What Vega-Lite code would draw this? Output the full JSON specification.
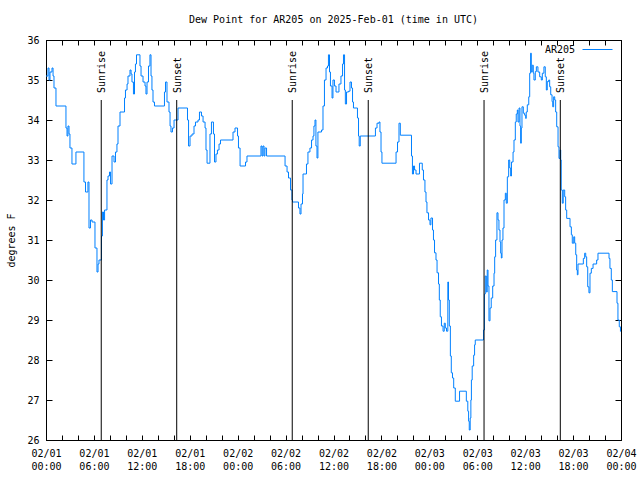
{
"$schema": "https://vega.github.io/schema/vega-lite/v6.json",
"width": 575, "height": 400,
"autosize": {"type": "none"},
"padding": {"left": 46, "top": 40, "right": 19, "bottom": 40},
"background": "white",
"title": {"text": "Dew Point for AR205 on 2025-Feb-01 (time in UTC)", "font": "DejaVu Sans Mono", "fontSize": 10, "fontWeight": "normal", "anchor": "middle", "offset": 9, "color": "black"},
"datasets": {
"dew": [
{"t":"2025-02-01T00:00Z","dp":35.1},{"t":"2025-02-01T00:15Z","dp":35.3},{"t":"2025-02-01T00:23Z","dp":35.0},{"t":"2025-02-01T00:30Z","dp":35.2},{"t":"2025-02-01T00:45Z","dp":35.3},{"t":"2025-02-01T00:53Z","dp":35.1},{"t":"2025-02-01T01:00Z","dp":34.8},{"t":"2025-02-01T01:15Z","dp":34.35},{"t":"2025-02-01T02:30Z","dp":33.8},{"t":"2025-02-01T02:38Z","dp":33.6},{"t":"2025-02-01T02:45Z","dp":33.85},{"t":"2025-02-01T02:53Z","dp":33.65},{"t":"2025-02-01T03:00Z","dp":33.3},{"t":"2025-02-01T03:15Z","dp":32.9},{"t":"2025-02-01T03:45Z","dp":33.2},{"t":"2025-02-01T04:45Z","dp":32.45},{"t":"2025-02-01T04:57Z","dp":32.2},{"t":"2025-02-01T05:15Z","dp":32.45},{"t":"2025-02-01T05:23Z","dp":31.3},{"t":"2025-02-01T05:34Z","dp":31.5},{"t":"2025-02-01T05:46Z","dp":31.45},{"t":"2025-02-01T06:08Z","dp":30.8},{"t":"2025-02-01T06:23Z","dp":30.2},{"t":"2025-02-01T06:31Z","dp":30.4},{"t":"2025-02-01T06:38Z","dp":30.5},{"t":"2025-02-01T06:57Z","dp":31.1},{"t":"2025-02-01T07:04Z","dp":31.7},{"t":"2025-02-01T07:12Z","dp":31.5},{"t":"2025-02-01T07:20Z","dp":31.75},{"t":"2025-02-01T07:38Z","dp":32.5},{"t":"2025-02-01T07:46Z","dp":32.6},{"t":"2025-02-01T07:57Z","dp":32.7},{"t":"2025-02-01T08:05Z","dp":32.4},{"t":"2025-02-01T08:16Z","dp":33.1},{"t":"2025-02-01T08:31Z","dp":32.95},{"t":"2025-02-01T08:42Z","dp":33.2},{"t":"2025-02-01T08:53Z","dp":33.4},{"t":"2025-02-01T09:01Z","dp":33.85},{"t":"2025-02-01T09:16Z","dp":34.2},{"t":"2025-02-01T09:50Z","dp":34.55},{"t":"2025-02-01T09:57Z","dp":34.75},{"t":"2025-02-01T10:09Z","dp":34.9},{"t":"2025-02-01T10:16Z","dp":35.1},{"t":"2025-02-01T10:31Z","dp":35.25},{"t":"2025-02-01T10:39Z","dp":35.15},{"t":"2025-02-01T10:46Z","dp":34.95},{"t":"2025-02-01T10:57Z","dp":34.65},{"t":"2025-02-01T11:05Z","dp":35.2},{"t":"2025-02-01T11:12Z","dp":35.4},{"t":"2025-02-01T11:20Z","dp":35.63},{"t":"2025-02-01T11:46Z","dp":35.35},{"t":"2025-02-01T11:54Z","dp":35.1},{"t":"2025-02-01T12:09Z","dp":34.95},{"t":"2025-02-01T12:24Z","dp":34.85},{"t":"2025-02-01T12:31Z","dp":34.65},{"t":"2025-02-01T12:39Z","dp":34.95},{"t":"2025-02-01T12:50Z","dp":35.35},{"t":"2025-02-01T13:01Z","dp":35.63},{"t":"2025-02-01T13:09Z","dp":35.1},{"t":"2025-02-01T13:16Z","dp":34.75},{"t":"2025-02-01T13:24Z","dp":34.45},{"t":"2025-02-01T13:35Z","dp":34.35},{"t":"2025-02-01T14:50Z","dp":34.7},{"t":"2025-02-01T14:58Z","dp":34.95},{"t":"2025-02-01T15:09Z","dp":34.45},{"t":"2025-02-01T15:24Z","dp":34.2},{"t":"2025-02-01T15:32Z","dp":33.85},{"t":"2025-02-01T15:39Z","dp":33.7},{"t":"2025-02-01T15:50Z","dp":33.8},{"t":"2025-02-01T16:02Z","dp":34.0},{"t":"2025-02-01T16:32Z","dp":34.3},{"t":"2025-02-01T17:43Z","dp":34.0},{"t":"2025-02-01T17:51Z","dp":33.35},{"t":"2025-02-01T18:02Z","dp":33.6},{"t":"2025-02-01T18:17Z","dp":33.65},{"t":"2025-02-01T18:32Z","dp":33.85},{"t":"2025-02-01T18:43Z","dp":33.95},{"t":"2025-02-01T19:02Z","dp":34.0},{"t":"2025-02-01T19:13Z","dp":34.2},{"t":"2025-02-01T19:28Z","dp":34.1},{"t":"2025-02-01T19:40Z","dp":33.95},{"t":"2025-02-01T19:55Z","dp":33.8},{"t":"2025-02-01T20:02Z","dp":33.25},{"t":"2025-02-01T20:10Z","dp":32.92},{"t":"2025-02-01T20:32Z","dp":33.65},{"t":"2025-02-01T20:43Z","dp":33.95},{"t":"2025-02-01T20:58Z","dp":33.65},{"t":"2025-02-01T21:06Z","dp":32.95},{"t":"2025-02-01T21:17Z","dp":33.15},{"t":"2025-02-01T21:28Z","dp":33.25},{"t":"2025-02-01T21:40Z","dp":33.4},{"t":"2025-02-01T21:51Z","dp":33.5},{"t":"2025-02-01T23:25Z","dp":33.7},{"t":"2025-02-01T23:40Z","dp":33.8},{"t":"2025-02-01T23:59Z","dp":33.6},
{"t":"2025-02-02T00:06Z","dp":33.3},{"t":"2025-02-02T00:18Z","dp":32.85},{"t":"2025-02-02T00:59Z","dp":32.95},{"t":"2025-02-02T01:10Z","dp":33.1},{"t":"2025-02-02T02:55Z","dp":33.35},{"t":"2025-02-02T03:03Z","dp":33.1},{"t":"2025-02-02T03:10Z","dp":33.35},{"t":"2025-02-02T03:18Z","dp":33.1},{"t":"2025-02-02T03:25Z","dp":33.3},{"t":"2025-02-02T03:37Z","dp":33.1},{"t":"2025-02-02T05:56Z","dp":32.85},{"t":"2025-02-02T06:11Z","dp":32.7},{"t":"2025-02-02T06:22Z","dp":32.55},{"t":"2025-02-02T06:37Z","dp":32.25},{"t":"2025-02-02T06:48Z","dp":32.0},{"t":"2025-02-02T06:52Z","dp":31.95},{"t":"2025-02-02T07:37Z","dp":31.8},{"t":"2025-02-02T07:48Z","dp":31.65},{"t":"2025-02-02T07:56Z","dp":31.9},{"t":"2025-02-02T08:07Z","dp":32.15},{"t":"2025-02-02T08:11Z","dp":32.65},{"t":"2025-02-02T08:37Z","dp":32.9},{"t":"2025-02-02T08:48Z","dp":33.2},{"t":"2025-02-02T09:03Z","dp":33.3},{"t":"2025-02-02T09:15Z","dp":33.5},{"t":"2025-02-02T09:26Z","dp":33.6},{"t":"2025-02-02T09:33Z","dp":33.85},{"t":"2025-02-02T09:41Z","dp":34.0},{"t":"2025-02-02T09:48Z","dp":33.35},{"t":"2025-02-02T09:56Z","dp":33.05},{"t":"2025-02-02T10:03Z","dp":33.7},{"t":"2025-02-02T10:30Z","dp":33.75},{"t":"2025-02-02T10:41Z","dp":34.35},{"t":"2025-02-02T10:52Z","dp":35.0},{"t":"2025-02-02T11:04Z","dp":35.3},{"t":"2025-02-02T11:15Z","dp":35.35},{"t":"2025-02-02T11:22Z","dp":35.63},{"t":"2025-02-02T11:30Z","dp":35.2},{"t":"2025-02-02T11:37Z","dp":34.85},{"t":"2025-02-02T11:49Z","dp":34.55},{"t":"2025-02-02T11:56Z","dp":35.0},{"t":"2025-02-02T12:07Z","dp":34.85},{"t":"2025-02-02T12:19Z","dp":34.7},{"t":"2025-02-02T12:41Z","dp":34.9},{"t":"2025-02-02T12:56Z","dp":35.1},{"t":"2025-02-02T13:08Z","dp":35.4},{"t":"2025-02-02T13:15Z","dp":35.63},{"t":"2025-02-02T13:23Z","dp":34.75},{"t":"2025-02-02T13:29Z","dp":34.4},{"t":"2025-02-02T13:38Z","dp":34.7},{"t":"2025-02-02T13:53Z","dp":34.72},{"t":"2025-02-02T14:04Z","dp":34.95},{"t":"2025-02-02T14:15Z","dp":34.8},{"t":"2025-02-02T14:23Z","dp":34.45},{"t":"2025-02-02T14:30Z","dp":34.3},{"t":"2025-02-02T15:00Z","dp":34.05},{"t":"2025-02-02T15:08Z","dp":33.6},{"t":"2025-02-02T15:13Z","dp":33.35},{"t":"2025-02-02T15:21Z","dp":33.6},{"t":"2025-02-02T17:15Z","dp":33.8},{"t":"2025-02-02T17:27Z","dp":33.92},{"t":"2025-02-02T17:42Z","dp":33.95},{"t":"2025-02-02T17:49Z","dp":33.7},{"t":"2025-02-02T17:57Z","dp":33.2},{"t":"2025-02-02T18:04Z","dp":32.92},{"t":"2025-02-02T19:50Z","dp":33.2},{"t":"2025-02-02T20:01Z","dp":33.45},{"t":"2025-02-02T20:12Z","dp":33.92},{"t":"2025-02-02T20:22Z","dp":33.62},{"t":"2025-02-02T21:46Z","dp":33.1},{"t":"2025-02-02T21:53Z","dp":32.65},{"t":"2025-02-02T22:01Z","dp":32.85},{"t":"2025-02-02T22:09Z","dp":32.75},{"t":"2025-02-02T22:20Z","dp":32.65},{"t":"2025-02-02T22:46Z","dp":32.92},{"t":"2025-02-02T23:07Z","dp":32.75},{"t":"2025-02-02T23:16Z","dp":32.5},{"t":"2025-02-02T23:27Z","dp":32.2},{"t":"2025-02-02T23:35Z","dp":31.95},{"t":"2025-02-02T23:42Z","dp":31.68},{"t":"2025-02-02T23:54Z","dp":31.5},
{"t":"2025-02-03T00:05Z","dp":31.38},{"t":"2025-02-03T00:12Z","dp":31.55},{"t":"2025-02-03T00:24Z","dp":31.25},{"t":"2025-02-03T00:31Z","dp":31.0},{"t":"2025-02-03T00:39Z","dp":30.68},{"t":"2025-02-03T00:50Z","dp":30.5},{"t":"2025-02-03T00:58Z","dp":30.18},{"t":"2025-02-03T01:09Z","dp":29.9},{"t":"2025-02-03T01:15Z","dp":29.5},{"t":"2025-02-03T01:22Z","dp":29.08},{"t":"2025-02-03T01:31Z","dp":28.85},{"t":"2025-02-03T01:43Z","dp":28.72},{"t":"2025-02-03T01:52Z","dp":28.92},{"t":"2025-02-03T02:00Z","dp":28.8},{"t":"2025-02-03T02:09Z","dp":28.72},{"t":"2025-02-03T02:19Z","dp":29.95},{"t":"2025-02-03T02:24Z","dp":29.5},{"t":"2025-02-03T02:30Z","dp":28.85},{"t":"2025-02-03T02:38Z","dp":28.1},{"t":"2025-02-03T02:45Z","dp":27.68},{"t":"2025-02-03T02:54Z","dp":27.55},{"t":"2025-02-03T03:03Z","dp":27.3},{"t":"2025-02-03T03:15Z","dp":26.97},{"t":"2025-02-03T03:47Z","dp":27.22},{"t":"2025-02-03T04:38Z","dp":26.97},{"t":"2025-02-03T04:49Z","dp":26.72},{"t":"2025-02-03T04:55Z","dp":26.47},{"t":"2025-02-03T05:00Z","dp":26.25},{"t":"2025-02-03T05:07Z","dp":26.55},{"t":"2025-02-03T05:12Z","dp":27.0},{"t":"2025-02-03T05:16Z","dp":27.5},{"t":"2025-02-03T05:22Z","dp":27.85},{"t":"2025-02-03T05:33Z","dp":28.12},{"t":"2025-02-03T05:40Z","dp":28.38},{"t":"2025-02-03T05:45Z","dp":28.5},{"t":"2025-02-03T06:47Z","dp":28.75},{"t":"2025-02-03T06:54Z","dp":29.65},{"t":"2025-02-03T07:00Z","dp":30.1},{"t":"2025-02-03T07:08Z","dp":29.7},{"t":"2025-02-03T07:15Z","dp":30.25},{"t":"2025-02-03T07:21Z","dp":29.85},{"t":"2025-02-03T07:28Z","dp":28.98},{"t":"2025-02-03T07:36Z","dp":29.3},{"t":"2025-02-03T07:45Z","dp":29.55},{"t":"2025-02-03T07:56Z","dp":29.85},{"t":"2025-02-03T08:06Z","dp":30.17},{"t":"2025-02-03T08:11Z","dp":30.58},{"t":"2025-02-03T08:18Z","dp":31.0},{"t":"2025-02-03T08:28Z","dp":31.68},{"t":"2025-02-03T08:36Z","dp":31.5},{"t":"2025-02-03T08:43Z","dp":31.25},{"t":"2025-02-03T08:51Z","dp":30.95},{"t":"2025-02-03T08:56Z","dp":30.67},{"t":"2025-02-03T09:01Z","dp":30.55},{"t":"2025-02-03T09:06Z","dp":31.0},{"t":"2025-02-03T09:13Z","dp":31.3},{"t":"2025-02-03T09:21Z","dp":32.0},{"t":"2025-02-03T09:31Z","dp":32.17},{"t":"2025-02-03T09:38Z","dp":31.92},{"t":"2025-02-03T09:46Z","dp":32.58},{"t":"2025-02-03T09:56Z","dp":33.0},{"t":"2025-02-03T10:04Z","dp":32.8},{"t":"2025-02-03T10:11Z","dp":32.6},{"t":"2025-02-03T10:17Z","dp":32.95},{"t":"2025-02-03T10:29Z","dp":33.2},{"t":"2025-02-03T10:36Z","dp":33.5},{"t":"2025-02-03T10:46Z","dp":33.95},{"t":"2025-02-03T10:53Z","dp":34.15},{"t":"2025-02-03T11:01Z","dp":34.25},{"t":"2025-02-03T11:06Z","dp":33.95},{"t":"2025-02-03T11:14Z","dp":34.3},{"t":"2025-02-03T11:21Z","dp":33.85},{"t":"2025-02-03T11:26Z","dp":33.42},{"t":"2025-02-03T11:31Z","dp":33.8},{"t":"2025-02-03T11:36Z","dp":34.33},{"t":"2025-02-03T11:46Z","dp":34.17},{"t":"2025-02-03T11:56Z","dp":34.12},{"t":"2025-02-03T12:04Z","dp":34.04},{"t":"2025-02-03T12:08Z","dp":34.2},{"t":"2025-02-03T12:16Z","dp":34.38},{"t":"2025-02-03T12:27Z","dp":34.58},{"t":"2025-02-03T12:34Z","dp":35.17},{"t":"2025-02-03T12:41Z","dp":35.67},{"t":"2025-02-03T12:46Z","dp":35.2},{"t":"2025-02-03T12:53Z","dp":35.37},{"t":"2025-02-03T13:01Z","dp":35.17},{"t":"2025-02-03T13:06Z","dp":35.0},{"t":"2025-02-03T13:16Z","dp":35.21},{"t":"2025-02-03T13:24Z","dp":35.33},{"t":"2025-02-03T13:36Z","dp":35.2},{"t":"2025-02-03T13:49Z","dp":35.08},{"t":"2025-02-03T14:01Z","dp":35.0},{"t":"2025-02-03T14:09Z","dp":35.17},{"t":"2025-02-03T14:21Z","dp":35.33},{"t":"2025-02-03T14:31Z","dp":35.08},{"t":"2025-02-03T14:39Z","dp":34.75},{"t":"2025-02-03T14:46Z","dp":34.96},{"t":"2025-02-03T14:57Z","dp":35.0},{"t":"2025-02-03T15:04Z","dp":34.83},{"t":"2025-02-03T15:12Z","dp":34.63},{"t":"2025-02-03T15:22Z","dp":34.46},{"t":"2025-02-03T15:27Z","dp":34.33},{"t":"2025-02-03T15:34Z","dp":34.58},{"t":"2025-02-03T15:42Z","dp":34.5},{"t":"2025-02-03T15:49Z","dp":34.2},{"t":"2025-02-03T15:57Z","dp":33.83},{"t":"2025-02-03T16:07Z","dp":33.33},{"t":"2025-02-03T16:14Z","dp":33.04},{"t":"2025-02-03T16:22Z","dp":33.25},{"t":"2025-02-03T16:27Z","dp":33.0},{"t":"2025-02-03T16:31Z","dp":32.25},{"t":"2025-02-03T16:39Z","dp":31.92},{"t":"2025-02-03T16:46Z","dp":32.25},{"t":"2025-02-03T16:57Z","dp":32.08},{"t":"2025-02-03T17:04Z","dp":31.75},{"t":"2025-02-03T17:12Z","dp":31.54},{"t":"2025-02-03T17:37Z","dp":31.33},{"t":"2025-02-03T17:47Z","dp":31.13},{"t":"2025-02-03T17:54Z","dp":30.92},{"t":"2025-02-03T18:05Z","dp":31.08},{"t":"2025-02-03T18:12Z","dp":30.92},{"t":"2025-02-03T18:20Z","dp":30.63},{"t":"2025-02-03T18:27Z","dp":30.25},{"t":"2025-02-03T18:32Z","dp":30.13},{"t":"2025-02-03T18:37Z","dp":30.4},{"t":"2025-02-03T19:17Z","dp":30.54},{"t":"2025-02-03T19:27Z","dp":30.67},{"t":"2025-02-03T19:35Z","dp":30.58},{"t":"2025-02-03T19:42Z","dp":30.33},{"t":"2025-02-03T19:50Z","dp":29.83},{"t":"2025-02-03T19:59Z","dp":29.68},{"t":"2025-02-03T20:07Z","dp":30.17},{"t":"2025-02-03T20:17Z","dp":30.29},{"t":"2025-02-03T20:30Z","dp":30.4},{"t":"2025-02-03T20:57Z","dp":30.5},{"t":"2025-02-03T21:07Z","dp":30.67},{"t":"2025-02-03T22:30Z","dp":30.54},{"t":"2025-02-03T22:37Z","dp":30.29},{"t":"2025-02-03T22:47Z","dp":30.0},{"t":"2025-02-03T22:55Z","dp":29.71},{"t":"2025-02-03T23:30Z","dp":29.42},{"t":"2025-02-03T23:37Z","dp":29.0},{"t":"2025-02-03T23:47Z","dp":28.83},{"t":"2025-02-03T23:56Z","dp":28.71}
],
"events": [
{"t":"2025-02-01T06:55Z","event":"Sunrise"},{"t":"2025-02-01T16:22Z","event":"Sunset"},
{"t":"2025-02-02T06:50Z","event":"Sunrise"},{"t":"2025-02-02T16:21Z","event":"Sunset"},
{"t":"2025-02-03T06:51Z","event":"Sunrise"},{"t":"2025-02-03T16:24Z","event":"Sunset"}
]
},
"layer": [
{
"data": {"name": "dew"},
"mark": {"type": "line", "interpolate": "step-after", "strokeWidth": 1},
"encoding": {
"x": {"field": "t", "type": "temporal",
 "scale": {"type": "utc", "domain": [1738368000000, 1738627200000]},
 "axis": {"orient": "bottom", "title": null, "values": [1738368000000,1738375200000,1738382400000,1738389600000,1738396800000,1738404000000,1738411200000,1738418400000,1738425600000,1738432800000,1738440000000,1738447200000,1738454400000,1738461600000,1738468800000,1738476000000,1738483200000,1738490400000,1738497600000,1738504800000,1738512000000,1738519200000,1738526400000,1738533600000,1738540800000,1738548000000,1738555200000,1738562400000,1738569600000,1738576800000,1738584000000,1738591200000,1738598400000,1738605600000,1738612800000,1738620000000,1738627200000], "tickSize": -5,
  "labelExpr": "utchours(datum.value) % 6 == 0 ? [utcFormat(datum.value, '%m/%d'), utcFormat(datum.value, '%H:%M')] : ''",
  "labelPadding": 13, "labelLineHeight": 13, "labelFlush": false, "labelOverlap": false, "labelBound": false}},
"y": {"field": "dp", "type": "quantitative",
 "scale": {"domain": [26, 36], "nice": false, "zero": false},
 "axis": {"orient": "left", "title": "degrees F", "values": [26,27,28,29,30,31,32,33,34,35,36], "tickSize": -6, "labelPadding": 13, "titlePadding": 10}},
"color": {"datum": "AR205", "type": "nominal", "scale": {"range": ["#0080ff"]},
 "legend": {"orient": "none", "legendX": 536, "legendY": -6, "title": null, "symbolType": "stroke", "symbolSize": 900, "symbolStrokeWidth": 1, "labelAlign": "right", "labelOffset": -38}}
}
},
{
"data": {"name": "events"},
"mark": {"type": "rule", "color": "black", "strokeWidth": 1},
"encoding": {
"x": {"field": "t", "type": "temporal", "axis": {"orient": "top", "title": null, "values": [1738368000000,1738375200000,1738382400000,1738389600000,1738396800000,1738404000000,1738411200000,1738418400000,1738425600000,1738432800000,1738440000000,1738447200000,1738454400000,1738461600000,1738468800000,1738476000000,1738483200000,1738490400000,1738497600000,1738504800000,1738512000000,1738519200000,1738526400000,1738533600000,1738540800000,1738548000000,1738555200000,1738562400000,1738569600000,1738576800000,1738584000000,1738591200000,1738598400000,1738605600000,1738612800000,1738620000000,1738627200000], "tickSize": -5, "labels": false}},
"y": {"datum": 34.5, "type": "quantitative", "axis": {"orient": "right", "title": null, "values": [26,27,28,29,30,31,32,33,34,35,36], "tickSize": -6, "labels": false}},
"y2": {"datum": 26}
}
},
{
"data": {"name": "events"},
"mark": {"type": "text", "angle": 270, "align": "left", "baseline": "middle", "dx": 7, "dy": 1, "font": "DejaVu Sans Mono", "fontSize": 10, "color": "black"},
"encoding": {
"x": {"field": "t", "type": "temporal", "axis": null},
"y": {"datum": 34.5, "type": "quantitative", "axis": null},
"text": {"field": "event"}
}
}
],
"resolve": {"axis": {"x": "independent", "y": "independent"}},
"config": {
"view": {"stroke": "black", "strokeWidth": 1},
"axis": {"grid": false, "domainColor": "black", "tickColor": "black", "labelColor": "black", "titleColor": "black", "labelFont": "DejaVu Sans Mono", "labelFontSize": 10, "titleFont": "DejaVu Sans Mono", "titleFontSize": 10, "titleFontWeight": "normal"},
"legend": {"labelFont": "DejaVu Sans Mono", "labelFontSize": 10, "labelColor": "black"}
}
}
